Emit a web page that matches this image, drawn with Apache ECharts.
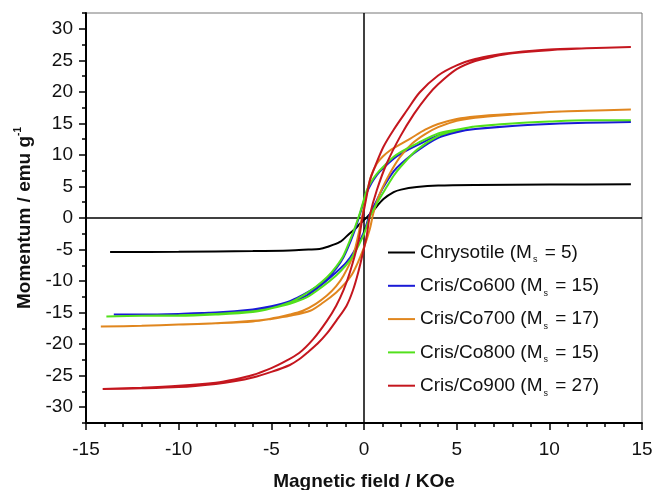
<!DOCTYPE html>
<html lang="en">
<head>
    <meta charset="utf-8">
    <style type="text/css">
    body { margin: 0; background-color: #fff }
    #echarts { width: 652px; height: 490px; }
    </style>
</head>
<body>
    <div id="echarts"></div>
    <script type="text/javascript" src="https://cdn.jsdelivr.net/npm/echarts@6/dist/echarts.min.js"></script>
    <script type="text/javascript">
    // sample names, saturation values for the legend and line colours
    var names = ['Chrysotile', 'Cris/Co600', 'Cris/Co700', 'Cris/Co800', 'Cris/Co900'];
    var msValues = [5, 15, 17, 15, 27];
    var colors = ['#000000', '#1a1ad6', '#e0861e', '#52e01c', '#c4161e'];

    var yTicks = [-30, -25, -20, -15, -10, -5, 0, 5, 10, 15, 20, 25, 30];

    // [field (KOe), moment (emu/g)]
    var chrysotile = [[-13.7, -5.4], [-10, -5.35], [-6, -5.25], [-4, -5.15], [-3, -5.0], [-2.4, -4.9], [-2, -4.6],
        [-1.3, -3.8], [-0.76, -2.4], [-0.5, -1.8], [-0.25, -1.0], [0, -0.3], [0.15, 0.1], [0.5, 1.2], [1.05, 3.0],
        [1.6, 4.1], [2, 4.5], [2.85, 4.9], [4, 5.15], [6, 5.25], [10, 5.3], [14.4, 5.35]];

    // each loop: upper branch (field going down) then lower branch (field going up)
    var co600Up = [[14.4, 15.2], [12, 15.1], [10, 14.9], [8, 14.6], [6, 14.1], [5, 13.7], [4, 13.1], [2.85, 11.5],
        [2, 10.2], [1.6, 9.4], [1, 7.8], [0.69, 6.8], [0.4, 5.5], [0.15, 4.0], [-0.2, 0.8], [-0.58, -2.6],
        [-1.1, -6.2], [-1.5, -8.0], [-2, -9.6], [-2.6, -11.0], [-3.3, -12.2], [-4, -13.2], [-5, -14.0],
        [-6, -14.5], [-8, -15.0], [-10, -15.2], [-12, -15.3], [-13.5, -15.3]];
    var co600Down = [[-13.5, -15.3], [-12, -15.3], [-10, -15.2], [-8, -15.0], [-6, -14.6], [-5, -14.1], [-4, -13.4],
        [-3.1, -12.3], [-2.3, -10.6], [-1.5, -8.6], [-0.94, -7.0], [-0.58, -5.5], [-0.03, -2.4], [0.32, 0.6],
        [0.69, 2.8], [1.05, 4.9], [1.6, 7.4], [2, 8.6], [2.85, 10.6], [4, 12.7], [5, 13.6], [6, 14.1], [8, 14.6],
        [10, 14.9], [12, 15.1], [14.4, 15.2]];

    var co700Up = [[14.4, 17.2], [12, 17.0], [10, 16.8], [8, 16.5], [6, 16.1], [5, 15.7], [4, 14.9], [3.3, 14.0],
        [2.5, 12.6], [1.9, 11.6], [1.4, 10.7], [1, 9.7], [0.69, 8.6], [0.4, 6.8], [0.15, 4.0], [0, 1.8],
        [-0.2, -1.2], [-0.58, -5.9], [-1.1, -9.1], [-1.5, -10.8], [-2, -12.3], [-2.6, -13.6], [-3.3, -14.7],
        [-4, -15.3], [-5.1, -16.0], [-6, -16.3], [-8, -16.7], [-10, -16.9], [-12, -17.1], [-14.2, -17.2]];
    var co700Down = [[-14.2, -17.2], [-12, -17.1], [-10, -16.9], [-8, -16.7], [-6, -16.4], [-5, -16.0], [-4, -15.5],
        [-2.9, -14.7], [-2.2, -13.4], [-1.5, -11.8], [-1, -10.3], [-0.58, -8.6], [-0.03, -4.9], [0.32, -1.7],
        [0.5, 0.7], [0.86, 3.9], [1.4, 7.1], [1.95, 9.7], [2.6, 11.8], [3.3, 13.3], [4, 14.4], [5, 15.4],
        [6, 15.9], [8, 16.4], [10, 16.8], [12, 17.0], [14.4, 17.2]];

    var co800Up = [[14.4, 15.5], [12, 15.5], [10, 15.3], [8, 15.0], [6, 14.5], [5, 14.0], [4, 13.4], [2.85, 11.8],
        [2, 10.5], [1.6, 9.7], [1, 8.0], [0.69, 7.0], [0.4, 5.8], [0.15, 4.4], [-0.2, 1.0], [-0.58, -2.2],
        [-1.1, -5.9], [-1.5, -7.7], [-2, -9.4], [-2.6, -10.9], [-3.3, -12.3], [-4, -13.4], [-5, -14.3],
        [-6, -14.9], [-8, -15.3], [-10, -15.5], [-12, -15.5], [-13.9, -15.6]];
    var co800Down = [[-13.9, -15.6], [-12, -15.5], [-10, -15.4], [-8, -15.2], [-6, -14.8], [-5, -14.3], [-4, -13.6],
        [-3.1, -12.6], [-2.3, -11.0], [-1.5, -9.1], [-1, -7.6], [-0.58, -5.9], [-0.03, -2.75], [0.32, 0.2],
        [0.69, 2.3], [1.22, 4.9], [1.6, 6.7], [2, 8.2], [2.85, 10.8], [4, 13.0], [5, 13.9], [6, 14.5], [8, 15.0],
        [10, 15.3], [12, 15.5], [14.4, 15.5]];

    var co900Up = [[14.4, 27.1], [12, 26.9], [10, 26.7], [8, 26.2], [7, 25.8], [6, 25.2], [5, 24.2], [4, 22.6],
        [3, 19.9], [2.3, 17.0], [1.6, 14.0], [1.05, 11.3], [0.6, 8.2], [0.32, 6.0], [0.1, 2.8], [-0.12, -0.6],
        [-0.31, -3.8], [-0.76, -8.6], [-1.1, -11.4], [-1.5, -13.9], [-2, -16.3], [-2.74, -19.2], [-3.5, -21.4],
        [-4.36, -22.9], [-5, -23.8], [-6, -24.9], [-7, -25.6], [-8, -26.1], [-10, -26.6], [-12, -26.9], [-14.1, -27.1]];
    var co900Down = [[-14.1, -27.1], [-12, -27.0], [-10, -26.8], [-8, -26.3], [-7, -25.9], [-6, -25.3], [-5, -24.4],
        [-4, -23.3], [-3.5, -22.4], [-3, -21.2], [-2.5, -19.9], [-2, -18.3], [-1.5, -16.3], [-0.94, -13.9],
        [-0.6, -11.5], [-0.31, -8.6], [0, -4.8], [0.15, -2.75], [0.32, 0.5], [0.69, 4.4], [1.22, 8.6],
        [1.95, 12.9], [2.7, 16.5], [3.4, 19.3], [4, 21.2], [5, 23.6], [6, 24.9], [7, 25.6], [8, 26.1], [10, 26.6],
        [12, 26.9], [14.4, 27.1]];

    var loops = [
        chrysotile,
        co600Up.concat(co600Down),
        co700Up.concat(co700Down),
        co800Up.concat(co800Down),
        co900Up.concat(co900Down)
    ];

    var font = 'Liberation Sans';
    var myEcharts = echarts.init(document.getElementById('echarts'));

    var series = names.map(function(name, i) {
        var s = {
            name: name,
            type: 'line',
            data: loops[i],
            showSymbol: false,
            smooth: 0.3,
            lineStyle: { color: colors[i], width: 2 },
            itemStyle: { color: colors[i] },
            z: 3 + i
        };
        if (i == 0) {
            /* zero lines across the plot */
            s.markLine = {
                silent: true,
                symbol: ['none', 'none'],
                label: { show: false },
                lineStyle: { color: '#000', width: 1.5, type: 'solid' },
                data: [{ xAxis: 0 }, { yAxis: 0 }]
            };
        }
        return s;
    });

    var option = {
        animation: false,
        backgroundColor: '#fff',
        grid: {
            left: 86, right: 10, top: 13, bottom: 67,
            outerBoundsMode: 'none',
            show: true, borderColor: '#777', borderWidth: 1
        },
        legend: {
            orient: 'vertical',
            left: 383,
            top: 238,
            itemWidth: 27,
            itemHeight: 2,
            itemGap: 11.8,
            icon: 'rect',
            data: names,
            formatter: function(name) {
                var i = names.indexOf(name);
                return '{a|' + name + ' (M}{s|s}{a| = ' + msValues[i] + ')}';
            },
            textStyle: {
                rich: {
                    a: { fontFamily: font, fontSize: 19, color: '#111', lineHeight: 24 },
                    s: { fontFamily: font, fontSize: 9, color: '#111', lineHeight: 24, verticalAlign: 'bottom', padding: [0, 2, 0, 1] }
                }
            }
        },
        xAxis: {
            type: 'value',
            min: -15, max: 15, interval: 5,
            name: 'Magnetic field / KOe',
            nameLocation: 'middle',
            nameGap: 49,
            nameTextStyle: { fontFamily: font, fontSize: 19, fontWeight: 'bold', color: '#111' },
            axisLine: { onZero: false, lineStyle: { color: '#000', width: 2 } },
            axisTick: { length: 7, lineStyle: { color: '#000', width: 1.5 } },
            minorTick: { show: true, splitNumber: 5, length: 4, lineStyle: { color: '#000', width: 1.5 } },
            axisLabel: { fontFamily: font, fontSize: 19, color: '#111', margin: 17 },
            splitLine: { show: false }
        },
        yAxis: [{
            type: 'value',
            position: 'left',
            min: -32.5, max: 32.5,
            name: '{n|Momentum / emu g}{p|-1}',
            nameLocation: 'middle',
            nameGap: 48,
            nameRotate: 90,
            nameTextStyle: {
                rich: {
                    n: { fontFamily: font, fontSize: 19, fontWeight: 'bold', color: '#111', lineHeight: 24 },
                    p: { fontFamily: font, fontSize: 10, fontWeight: 'bold', color: '#111', lineHeight: 24, verticalAlign: 'top' }
                }
            },
            axisLine: { onZero: false, lineStyle: { color: '#000', width: 2 } },
            axisTick: { length: 7, customValues: yTicks, lineStyle: { color: '#000', width: 1.5 } },
            axisLabel: { fontFamily: font, fontSize: 19, color: '#111', margin: 13, customValues: yTicks },
            splitLine: { show: false }
        }, {
            /* minor ticks only */
            type: 'value',
            position: 'left',
            min: -32.5, max: 32.5, interval: 2.5,
            axisLine: { show: false, onZero: false },
            axisTick: { length: 4, lineStyle: { color: '#000', width: 1.5 } },
            axisLabel: { show: false },
            splitLine: { show: false }
        }],
        series: series
    };
    myEcharts.setOption(option);
    </script>
</body>
</html>
